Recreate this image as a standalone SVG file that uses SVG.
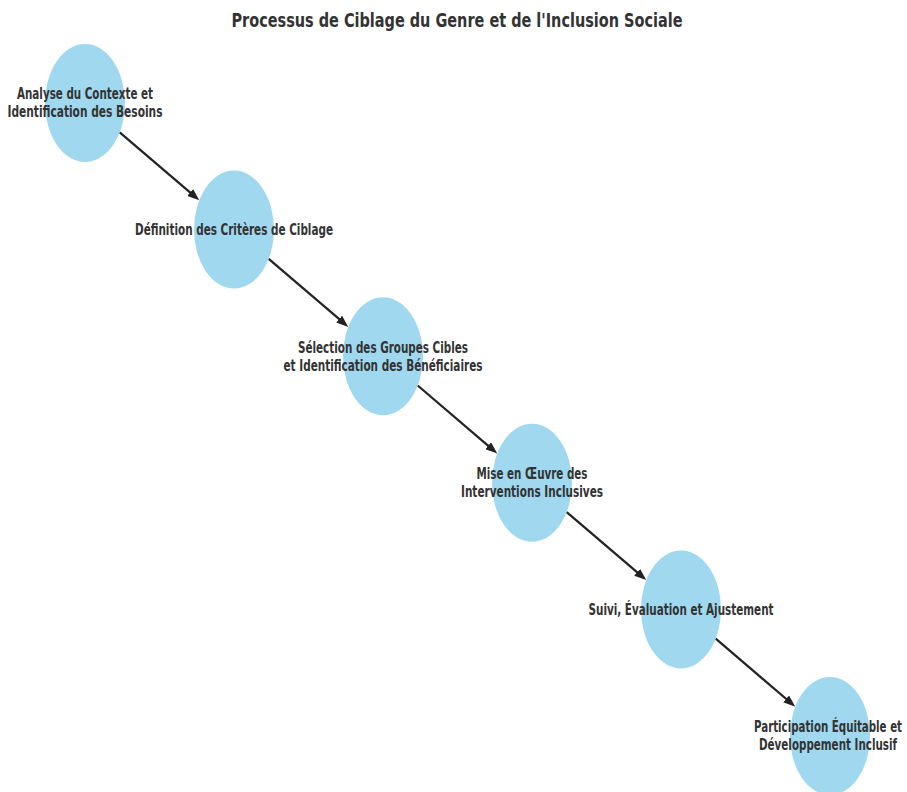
<svg xmlns="http://www.w3.org/2000/svg" width="907" height="792" viewBox="0 0 907 792">
<defs>
<style>
.node ellipse{fill:#87CEEB;fill-opacity:0.8;stroke:none}
.lbl{font-family:"DejaVu Sans","Liberation Sans",sans-serif;font-weight:bold;font-size:15px;fill:#333;text-anchor:middle}
.title{font-family:"DejaVu Sans","Liberation Sans",sans-serif;font-weight:bold;font-size:20px;fill:#333;text-anchor:middle}
.edge{stroke:#222;stroke-width:2.2;fill:none;marker-end:url(#arr)}
</style>
<marker id="arr" markerUnits="userSpaceOnUse" markerWidth="12" markerHeight="9" refX="4" refY="4.5" orient="auto" viewBox="0 0 12 9">
<path d="M0,0 L12,4.5 L0,9 z" fill="#222"/>
</marker>
</defs>
<rect width="907" height="792" fill="#fff"/>
<text class="title" x="457" y="27" textLength="451" lengthAdjust="spacingAndGlyphs">Processus de Ciblage du Genre et de l'Inclusion Sociale</text>
<g id="connectors">
<line class="edge" x1="119.7" y1="132.3" x2="193.2" y2="195.1"/>
<line class="edge" x1="268.7" y1="258.9" x2="342.2" y2="321.7"/>
<line class="edge" x1="417.7" y1="385.5" x2="491.2" y2="448.3"/>
<line class="edge" x1="566.7" y1="512.1" x2="640.2" y2="574.9"/>
<line class="edge" x1="715.7" y1="638.7" x2="789.2" y2="701.5"/>
</g>
<g id="n1" class="node"><ellipse cx="85" cy="103" rx="40" ry="59"/>
<text class="lbl" x="85" y="99" textLength="136" lengthAdjust="spacingAndGlyphs">Analyse du Contexte et</text>
<text class="lbl" x="85" y="117" textLength="155" lengthAdjust="spacingAndGlyphs">Identification des Besoins</text></g>
<g id="n2" class="node"><ellipse cx="234" cy="229.6" rx="40" ry="59"/>
<text class="lbl" x="234" y="235" textLength="198" lengthAdjust="spacingAndGlyphs">Définition des Critères de Ciblage</text></g>
<g id="n3" class="node"><ellipse cx="383" cy="356.2" rx="40" ry="59"/>
<text class="lbl" x="383" y="353" textLength="170" lengthAdjust="spacingAndGlyphs">Sélection des Groupes Cibles</text>
<text class="lbl" x="383" y="371" textLength="199" lengthAdjust="spacingAndGlyphs">et Identification des Bénéficiaires</text></g>
<g id="n4" class="node"><ellipse cx="532" cy="482.8" rx="40" ry="59"/>
<text class="lbl" x="532" y="479" textLength="111" lengthAdjust="spacingAndGlyphs">Mise en Œuvre des</text>
<text class="lbl" x="532" y="497" textLength="142" lengthAdjust="spacingAndGlyphs">Interventions Inclusives</text></g>
<g id="n5" class="node"><ellipse cx="681" cy="609.4" rx="40" ry="59"/>
<text class="lbl" x="681" y="615" textLength="185" lengthAdjust="spacingAndGlyphs">Suivi, Évaluation et Ajustement</text></g>
<g id="n6" class="node"><ellipse cx="830" cy="736" rx="40" ry="59"/>
<text class="lbl" x="828" y="732" textLength="148" lengthAdjust="spacingAndGlyphs">Participation Équitable et</text>
<text class="lbl" x="828" y="750" textLength="138" lengthAdjust="spacingAndGlyphs">Développement Inclusif</text></g>
</svg>
